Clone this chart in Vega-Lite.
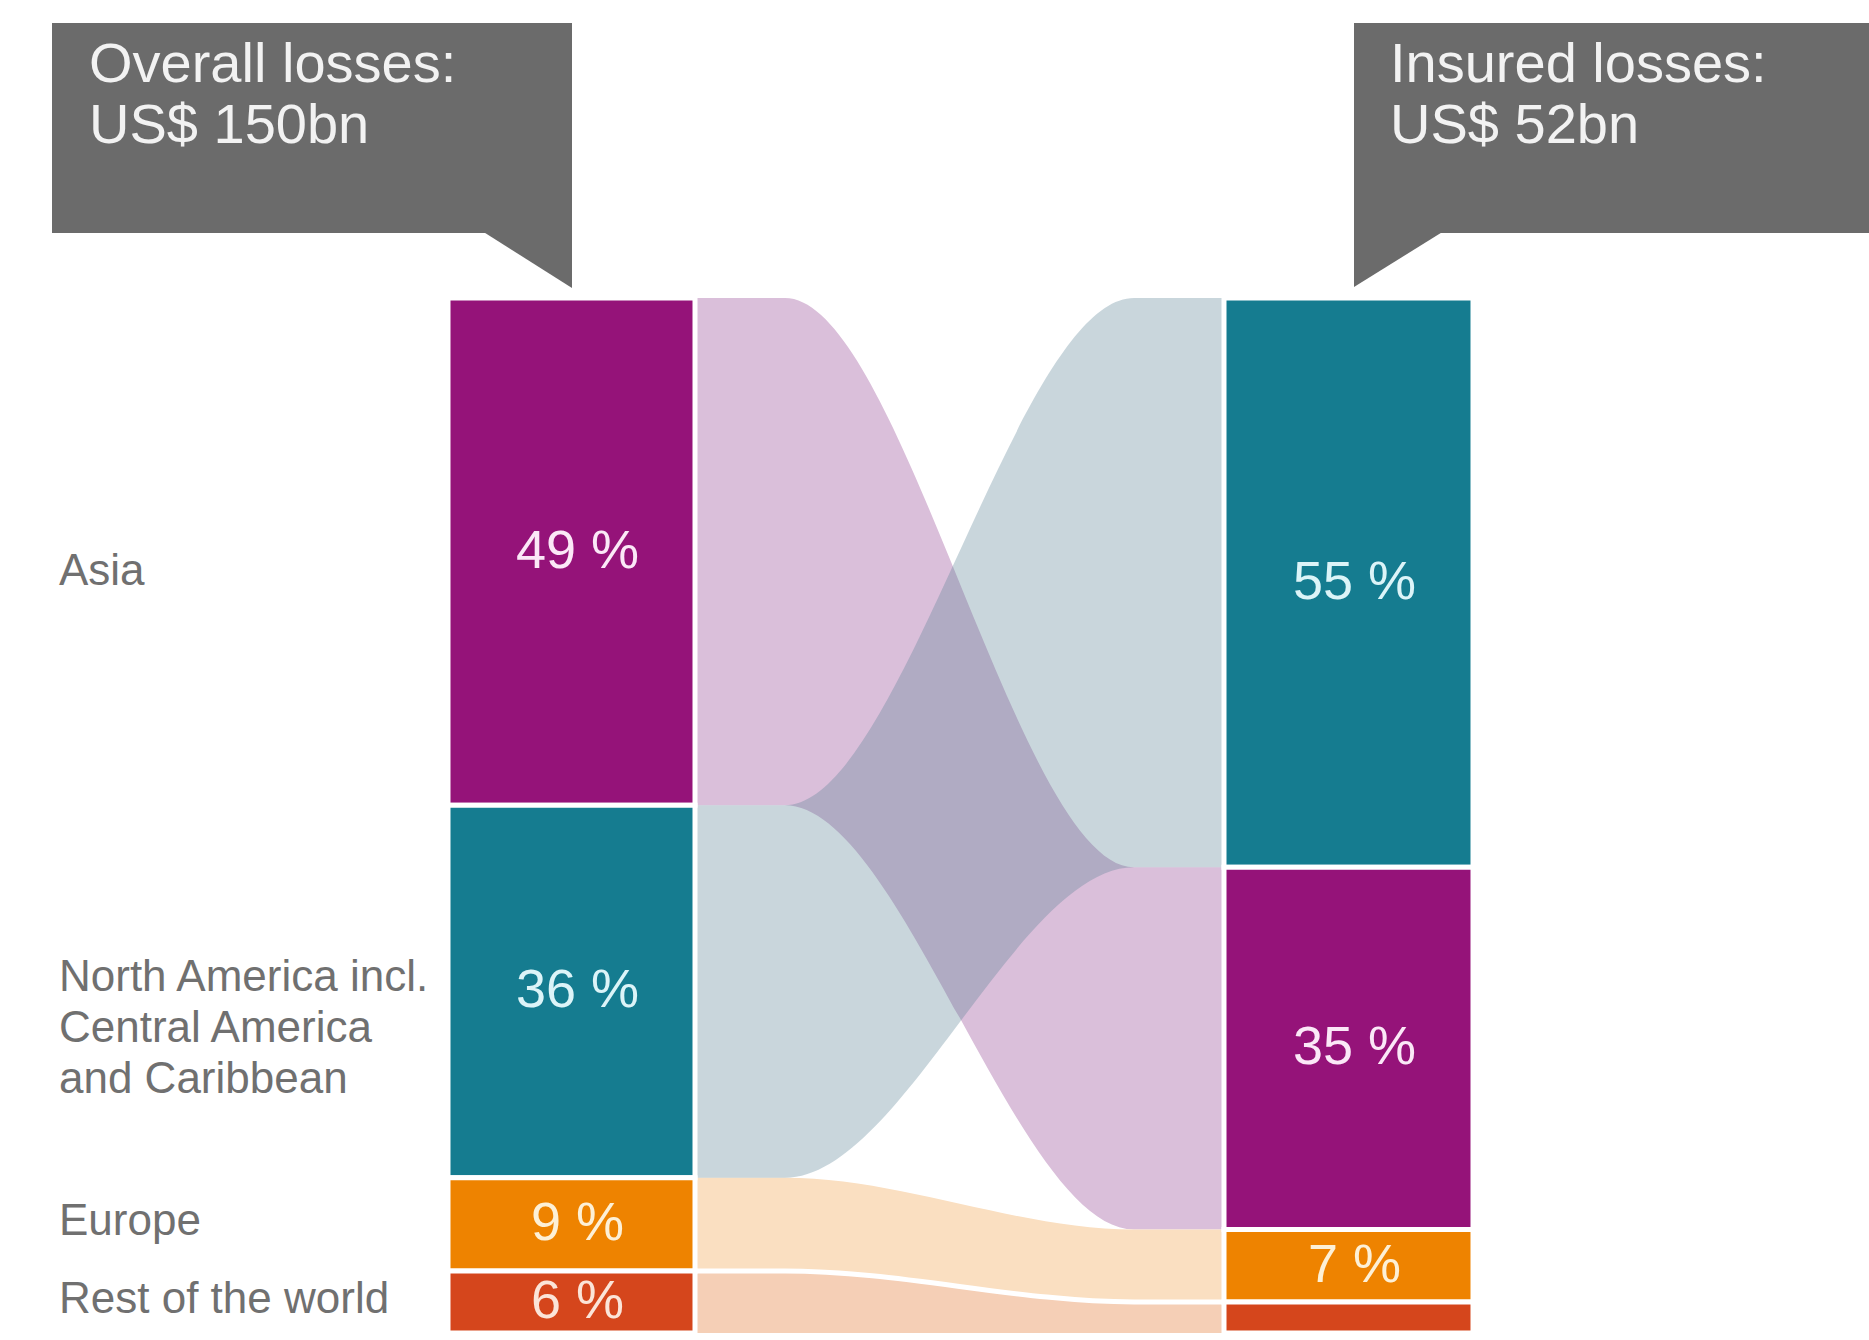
{
  "$schema": "https://vega.github.io/schema/vega-lite/v6.json",
  "width": 1869,
  "height": 1340,
  "autosize": {"type": "fit", "contains": "padding"},
  "padding": 0,
  "background": "white",
  "config": {"view": {"stroke": null}, "text": {"font": "Liberation Sans"}},
  "datasets": {
    "segments": [
      {"side": "Overall losses", "region": "Asia", "name": "Asia", "rank": 1, "pct": 49},
      {"side": "Overall losses", "region": "North America", "name": "North America incl.\nCentral America\nand Caribbean", "rank": 2, "pct": 36},
      {"side": "Overall losses", "region": "Europe", "name": "Europe", "rank": 3, "pct": 9},
      {"side": "Overall losses", "region": "Rest of the world", "name": "Rest of the world", "rank": 4, "pct": 6},
      {"side": "Insured losses", "region": "North America", "name": "North America incl.\nCentral America\nand Caribbean", "rank": 1, "pct": 55},
      {"side": "Insured losses", "region": "Asia", "name": "Asia", "rank": 2, "pct": 35},
      {"side": "Insured losses", "region": "Europe", "name": "Europe", "rank": 3, "pct": 7},
      {"side": "Insured losses", "region": "Rest of the world", "name": "Rest of the world", "rank": 4, "pct": 3}
    ],
    "flows": [
      {"region": "Asia", "stage": 0, "rank": 1, "pct": 49},
      {"region": "North America", "stage": 0, "rank": 2, "pct": 36},
      {"region": "Europe", "stage": 0, "rank": 3, "pct": 9},
      {"region": "Rest of the world", "stage": 0, "rank": 4, "pct": 6},
      {"region": "Asia", "stage": 0.17, "rank": 1, "pct": 49},
      {"region": "North America", "stage": 0.17, "rank": 2, "pct": 36},
      {"region": "Europe", "stage": 0.17, "rank": 3, "pct": 9},
      {"region": "Rest of the world", "stage": 0.17, "rank": 4, "pct": 6},
      {"region": "North America", "stage": 0.83, "rank": 1, "pct": 55},
      {"region": "Asia", "stage": 0.83, "rank": 2, "pct": 35},
      {"region": "Europe", "stage": 0.83, "rank": 3, "pct": 7},
      {"region": "Rest of the world", "stage": 0.83, "rank": 4, "pct": 3},
      {"region": "North America", "stage": 1, "rank": 1, "pct": 55},
      {"region": "Asia", "stage": 1, "rank": 2, "pct": 35},
      {"region": "Europe", "stage": 1, "rank": 3, "pct": 7},
      {"region": "Rest of the world", "stage": 1, "rank": 4, "pct": 3}
    ],
    "totals": [
      {"side": "Overall losses", "caption": "Overall losses:\nUS$ 150bn"},
      {"side": "Insured losses", "caption": "Insured losses:\nUS$ 52bn"}
    ]
  },
  "layer": [
    {
      "data": {"name": "flows"},
      "transform": [
        {"stack": "pct", "groupby": ["stage"], "sort": [{"field": "rank", "order": "ascending"}], "as": ["y0", "y1"]},
        {"filter": "datum.region !== 'North America'"}
      ],
      "mark": {"type": "area", "interpolate": "monotone", "opacity": 1},
      "encoding": {
        "x": {"field": "stage", "type": "quantitative", "scale": {"domain": [-1.3138, 2.21928], "nice": false, "zero": false}, "axis": null},
        "y": {"field": "y0", "type": "quantitative", "scale": {"domain": [-28.7923, 100.676], "reverse": true, "nice": false, "zero": false}, "axis": null},
        "y2": {"field": "y1"},
        "color": {"field": "region", "type": "nominal", "legend": null,
          "scale": {"domain": ["Asia", "Europe", "Rest of the world"], "range": ["#dabfda", "#fadfc1", "#f5cfb6"]}}
      }
    },
    {
      "data": {"name": "flows"},
      "transform": [
        {"stack": "pct", "groupby": ["stage"], "sort": [{"field": "rank", "order": "ascending"}], "as": ["y0", "y1"]},
        {"filter": "datum.region === 'North America'"}
      ],
      "mark": {"type": "area", "interpolate": "monotone", "color": "#588095", "opacity": 0.326},
      "encoding": {
        "x": {"field": "stage", "type": "quantitative", "scale": {"domain": [-1.3138, 2.21928], "nice": false, "zero": false}, "axis": null},
        "y": {"field": "y0", "type": "quantitative", "scale": {"domain": [-28.7923, 100.676], "reverse": true, "nice": false, "zero": false}, "axis": null},
        "y2": {"field": "y1"}
      }
    },
    {
      "data": {"name": "flows"},
      "transform": [
        {"stack": "pct", "groupby": ["stage"], "sort": [{"field": "rank", "order": "ascending"}], "as": ["y0", "y1"]},
        {"filter": "datum.region === 'Rest of the world'"}
      ],
      "mark": {"type": "line", "interpolate": "monotone", "color": "white", "strokeWidth": 5},
      "encoding": {
        "x": {"field": "stage", "type": "quantitative", "scale": {"domain": [-1.3138, 2.21928], "nice": false, "zero": false}, "axis": null},
        "y": {"field": "y0", "type": "quantitative", "scale": {"domain": [-28.7923, 100.676], "reverse": true, "nice": false, "zero": false}, "axis": null}
      }
    },
    {
      "data": {"name": "segments"},
      "transform": [
        {"stack": "pct", "groupby": ["side"], "sort": [{"field": "rank", "order": "ascending"}], "as": ["y0", "y1"]},
        {"filter": "datum.side === 'Overall losses'"}
      ],
      "mark": {"type": "rect", "stroke": "white", "strokeWidth": 5},
      "encoding": {
        "x": {"datum": -0.46692, "type": "quantitative", "scale": {"domain": [-1.3138, 2.21928], "nice": false, "zero": false}, "axis": null},
        "x2": {"datum": 0},
        "y": {"field": "y0", "type": "quantitative", "scale": {"domain": [-28.7923, 100.676], "reverse": true, "nice": false, "zero": false}, "axis": null},
        "y2": {"field": "y1"},
        "color": {"field": "region", "type": "nominal", "legend": null,
          "scale": {"domain": ["Asia", "North America", "Europe", "Rest of the world"], "range": ["#951379", "#157c90", "#ee8300", "#d5461c"]}}
      }
    },
    {
      "data": {"name": "segments"},
      "transform": [
        {"stack": "pct", "groupby": ["side"], "sort": [{"field": "rank", "order": "ascending"}], "as": ["y0", "y1"]},
        {"filter": "datum.side === 'Insured losses'"}
      ],
      "mark": {"type": "rect", "stroke": "white", "strokeWidth": 5},
      "encoding": {
        "x": {"datum": 1, "type": "quantitative", "scale": {"domain": [-1.3138, 2.21928], "nice": false, "zero": false}, "axis": null},
        "x2": {"datum": 1.4707},
        "y": {"field": "y0", "type": "quantitative", "scale": {"domain": [-28.7923, 100.676], "reverse": true, "nice": false, "zero": false}, "axis": null},
        "y2": {"field": "y1"},
        "color": {"field": "region", "type": "nominal", "legend": null,
          "scale": {"domain": ["Asia", "North America", "Europe", "Rest of the world"], "range": ["#951379", "#157c90", "#ee8300", "#d5461c"]}}
      }
    },
    {
      "data": {"name": "segments"},
      "transform": [
        {"stack": "pct", "groupby": ["side"], "sort": [{"field": "rank", "order": "ascending"}], "as": ["y0", "y1"]},
        {"filter": "datum.side === 'Overall losses'"},
        {"calculate": "(datum.y0 + datum.y1) / 2", "as": "ymid"},
        {"calculate": "datum.pct + ' %'", "as": "label"}
      ],
      "mark": {"type": "text", "fontSize": 54, "align": "center", "baseline": "middle", "dx": 6, "font": "Liberation Sans"},
      "encoding": {
        "x": {"datum": -0.23346, "type": "quantitative", "scale": {"domain": [-1.3138, 2.21928], "nice": false, "zero": false}, "axis": null},
        "y": {"field": "ymid", "type": "quantitative", "scale": {"domain": [-28.7923, 100.676], "reverse": true, "nice": false, "zero": false}, "axis": null},
        "text": {"field": "label"},
        "color": {"condition": [
          {"test": "datum.region === 'Asia'", "value": "#fbe8f7"},
          {"test": "datum.region === 'North America'", "value": "#dcf4f8"},
          {"test": "datum.region === 'Europe'", "value": "#fdf0d6"}
        ], "value": "#fbe4d8"}
      }
    },
    {
      "data": {"name": "segments"},
      "transform": [
        {"stack": "pct", "groupby": ["side"], "sort": [{"field": "rank", "order": "ascending"}], "as": ["y0", "y1"]},
        {"filter": "datum.side === 'Insured losses' && datum.pct >= 5"},
        {"calculate": "(datum.y0 + datum.y1) / 2", "as": "ymid"},
        {"calculate": "datum.pct + ' %'", "as": "label"}
      ],
      "mark": {"type": "text", "fontSize": 54, "align": "center", "baseline": "middle", "dx": 6, "font": "Liberation Sans"},
      "encoding": {
        "x": {"datum": 1.23535, "type": "quantitative", "scale": {"domain": [-1.3138, 2.21928], "nice": false, "zero": false}, "axis": null},
        "y": {"field": "ymid", "type": "quantitative", "scale": {"domain": [-28.7923, 100.676], "reverse": true, "nice": false, "zero": false}, "axis": null},
        "text": {"field": "label"},
        "color": {"condition": [
          {"test": "datum.region === 'Asia'", "value": "#fbe8f7"},
          {"test": "datum.region === 'North America'", "value": "#dcf4f8"},
          {"test": "datum.region === 'Europe'", "value": "#fdf0d6"}
        ], "value": "#fbe4d8"}
      }
    },
    {
      "data": {"name": "segments"},
      "transform": [
        {"stack": "pct", "groupby": ["side"], "sort": [{"field": "rank", "order": "ascending"}], "as": ["y0", "y1"]},
        {"filter": "datum.side === 'Overall losses' && datum.region === 'Asia'"},
        {"calculate": "(datum.y0 + datum.y1) / 2", "as": "ymid"}
      ],
      "mark": {"type": "text", "fontSize": 44, "align": "left", "baseline": "middle", "dy": 20, "color": "#707070", "font": "Liberation Sans"},
      "encoding": {
        "x": {"datum": -1.2023, "type": "quantitative", "scale": {"domain": [-1.3138, 2.21928], "nice": false, "zero": false}, "axis": null},
        "y": {"field": "ymid", "type": "quantitative", "scale": {"domain": [-28.7923, 100.676], "reverse": true, "nice": false, "zero": false}, "axis": null},
        "text": {"field": "name"}
      }
    },
    {
      "data": {"name": "segments"},
      "transform": [
        {"stack": "pct", "groupby": ["side"], "sort": [{"field": "rank", "order": "ascending"}], "as": ["y0", "y1"]},
        {"filter": "datum.side === 'Overall losses' && datum.region === 'North America'"},
        {"calculate": "(datum.y0 + datum.y1) / 2", "as": "ymid"}
      ],
      "mark": {"type": "text", "fontSize": 44, "align": "left", "baseline": "middle", "dy": -13, "color": "#707070", "lineBreak": "\n", "lineHeight": 51, "font": "Liberation Sans"},
      "encoding": {
        "x": {"datum": -1.2023, "type": "quantitative", "scale": {"domain": [-1.3138, 2.21928], "nice": false, "zero": false}, "axis": null},
        "y": {"field": "ymid", "type": "quantitative", "scale": {"domain": [-28.7923, 100.676], "reverse": true, "nice": false, "zero": false}, "axis": null},
        "text": {"field": "name"}
      }
    },
    {
      "data": {"name": "segments"},
      "transform": [
        {"stack": "pct", "groupby": ["side"], "sort": [{"field": "rank", "order": "ascending"}], "as": ["y0", "y1"]},
        {"filter": "datum.side === 'Overall losses' && datum.rank >= 3"},
        {"calculate": "(datum.y0 + datum.y1) / 2", "as": "ymid"}
      ],
      "mark": {"type": "text", "fontSize": 44, "align": "left", "baseline": "middle", "dy": -2, "color": "#707070", "font": "Liberation Sans"},
      "encoding": {
        "x": {"datum": -1.2023, "type": "quantitative", "scale": {"domain": [-1.3138, 2.21928], "nice": false, "zero": false}, "axis": null},
        "y": {"field": "ymid", "type": "quantitative", "scale": {"domain": [-28.7923, 100.676], "reverse": true, "nice": false, "zero": false}, "axis": null},
        "text": {"field": "name"}
      }
    },
    {
      "data": {"name": "totals"},
      "transform": [{"filter": "datum.side === 'Overall losses'"}],
      "mark": {"type": "rect", "color": "#6b6b6b"},
      "encoding": {
        "x": {"datum": -1.2155, "type": "quantitative", "scale": {"domain": [-1.3138, 2.21928], "nice": false, "zero": false}, "axis": null},
        "x2": {"datum": -0.23251},
        "y": {"datum": -26.57, "type": "quantitative", "scale": {"domain": [-28.7923, 100.676], "reverse": true, "nice": false, "zero": false}, "axis": null},
        "y2": {"datum": -6.28}
      }
    },
    {
      "data": {"name": "totals"},
      "transform": [{"filter": "datum.side === 'Insured losses'"}],
      "mark": {"type": "rect", "color": "#6b6b6b"},
      "encoding": {
        "x": {"datum": 1.24575, "type": "quantitative", "scale": {"domain": [-1.3138, 2.21928], "nice": false, "zero": false}, "axis": null},
        "x2": {"datum": 2.21928},
        "y": {"datum": -26.57, "type": "quantitative", "scale": {"domain": [-28.7923, 100.676], "reverse": true, "nice": false, "zero": false}, "axis": null},
        "y2": {"datum": -6.28}
      }
    },
    {
      "data": {"name": "totals"},
      "transform": [{"filter": "datum.side === 'Overall losses'"}],
      "mark": {"type": "point", "shape": "M-1,-0.633L1,-0.633L1,0.633Z", "size": 8100, "filled": true, "opacity": 1, "color": "#6b6b6b", "strokeWidth": 0},
      "encoding": {
        "x": {"datum": -0.31758, "type": "quantitative", "scale": {"domain": [-1.3138, 2.21928], "nice": false, "zero": false}, "axis": null},
        "y": {"datum": -3.72, "type": "quantitative", "scale": {"domain": [-28.7923, 100.676], "reverse": true, "nice": false, "zero": false}, "axis": null}
      }
    },
    {
      "data": {"name": "totals"},
      "transform": [{"filter": "datum.side === 'Insured losses'"}],
      "mark": {"type": "point", "shape": "M-1,-0.622L1,-0.622L-1,0.622Z", "size": 8100, "filled": true, "opacity": 1, "color": "#6b6b6b", "strokeWidth": 0},
      "encoding": {
        "x": {"datum": 1.33081, "type": "quantitative", "scale": {"domain": [-1.3138, 2.21928], "nice": false, "zero": false}, "axis": null},
        "y": {"datum": -3.768, "type": "quantitative", "scale": {"domain": [-28.7923, 100.676], "reverse": true, "nice": false, "zero": false}, "axis": null}
      }
    },
    {
      "data": {"name": "totals"},
      "transform": [{"filter": "datum.side === 'Overall losses'"}],
      "mark": {"type": "text", "fontSize": 56, "align": "left", "baseline": "alphabetic", "color": "#f2f2f2", "lineBreak": "\n", "lineHeight": 61, "font": "Liberation Sans"},
      "encoding": {
        "x": {"datum": -1.14556, "type": "quantitative", "scale": {"domain": [-1.3138, 2.21928], "nice": false, "zero": false}, "axis": null},
        "y": {"datum": -20.87, "type": "quantitative", "scale": {"domain": [-28.7923, 100.676], "reverse": true, "nice": false, "zero": false}, "axis": null},
        "text": {"field": "caption"}
      }
    },
    {
      "data": {"name": "totals"},
      "transform": [{"filter": "datum.side === 'Insured losses'"}],
      "mark": {"type": "text", "fontSize": 56, "align": "left", "baseline": "alphabetic", "color": "#f2f2f2", "lineBreak": "\n", "lineHeight": 61, "font": "Liberation Sans"},
      "encoding": {
        "x": {"datum": 1.3138, "type": "quantitative", "scale": {"domain": [-1.3138, 2.21928], "nice": false, "zero": false}, "axis": null},
        "y": {"datum": -20.87, "type": "quantitative", "scale": {"domain": [-28.7923, 100.676], "reverse": true, "nice": false, "zero": false}, "axis": null},
        "text": {"field": "caption"}
      }
    }
  ],
  "resolve": {"scale": {"color": "independent"}}
}
